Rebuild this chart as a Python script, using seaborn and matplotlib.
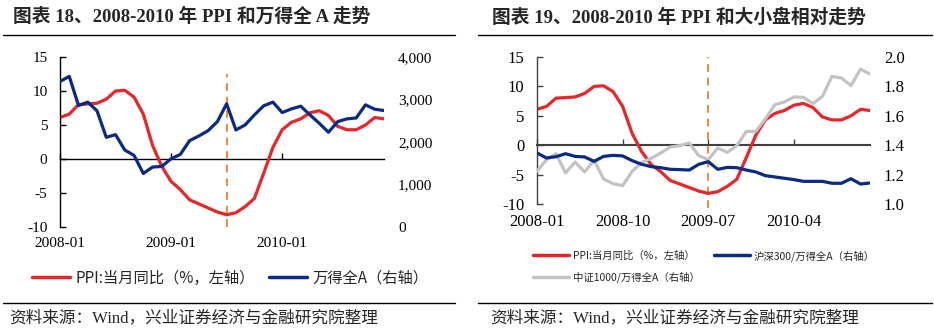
import matplotlib
matplotlib.use("Agg")
import matplotlib.pyplot as plt
from matplotlib.lines import Line2D
import numpy as np
import pandas as pd
import seaborn as sns

# ---- data: monthly, 2008-01 .. 2010-12 ----
months = [p.strftime("%Y-%m") for p in pd.period_range("2008-01", "2010-12", freq="M")]

ppi_yoy = [6.1, 6.6, 8.0, 8.1, 8.2, 8.8, 10.0, 10.1, 9.1, 6.6, 2.0, -1.1,
           -3.3, -4.5, -6.0, -6.6, -7.2, -7.8, -8.2, -7.9, -7.0, -5.8, -2.1, 1.7,
           4.3, 5.4, 5.9, 6.8, 7.1, 6.4, 4.8, 4.3, 4.3, 5.0, 6.1, 5.9]

wind_all_a = [3424, 3544, 2858, 2938, 2733, 2110, 2173, 1811, 1685, 1259, 1410, 1426,
              1606, 1709, 2032, 2142, 2267, 2480, 2898, 2283, 2402, 2638, 2851, 2938,
              2693, 2779, 2843, 2638, 2442, 2229, 2480, 2544, 2566, 2874, 2771, 2741]

hs300_ratio = [1.347, 1.313, 1.322, 1.342, 1.324, 1.320, 1.290, 1.324, 1.331, 1.327, 1.295, 1.270,
               1.254, 1.247, 1.236, 1.234, 1.231, 1.270, 1.288, 1.236, 1.249, 1.247, 1.231, 1.218,
               1.193, 1.184, 1.175, 1.166, 1.154, 1.154, 1.154, 1.141, 1.141, 1.172, 1.136, 1.143]

csi1000_ratio = [1.222, 1.302, 1.342, 1.211, 1.286, 1.218, 1.297, 1.170, 1.138, 1.125, 1.222, 1.283,
                 1.311, 1.347, 1.388, 1.397, 1.415, 1.329, 1.302, 1.381, 1.351, 1.397, 1.494, 1.494,
                 1.578, 1.676, 1.694, 1.728, 1.726, 1.683, 1.732, 1.868, 1.857, 1.805, 1.918, 1.884]

marker_month = "2009-07"
left_xticks = ["2008-01", "2009-01", "2010-01"]
right_xticks = ["2008-01", "2008-10", "2009-07", "2010-04"]

df = pd.DataFrame({"idx": np.arange(len(months)), "ppi": ppi_yoy, "wind": wind_all_a,
                   "hs300": hs300_ratio, "csi1000": csi1000_ratio})

RED = "#E8262A"
NAVY = "#0B2A84"
GRAY = "#C3C3C3"
ORANGE = "#F0883A"

sns.set_theme(style="white")
plt.rcParams["font.family"] = ["Liberation Serif", "Noto Sans CJK SC"]
plt.rcParams["axes.unicode_minus"] = False

fig = plt.figure(figsize=(9.34, 3.31), dpi=100)
W, H = 934, 331


def fx(px):
    return px / W


def fy(py):
    return 1 - py / H


def panel(rect, right_lim, right_ticks, right_fmt, xtick_names, tick_fs, axis_color, zero_lw):
    ax = fig.add_axes(rect)
    ax.set_facecolor("none")
    ax.set_xlim(0, len(months) - 1)
    ax.set_ylim(-10, 15)
    ax.set_yticks([-10, -5, 0, 5, 10, 15])
    ax.set_yticklabels([str(v) for v in [-10, -5, 0, 5, 10, 15]])
    for s in ["top", "right", "bottom"]:
        ax.spines[s].set_visible(False)
    ax.spines["left"].set_color(axis_color)
    ax.spines["left"].set_linewidth(1.0)
    ax.tick_params(axis="y", direction="in", length=4, width=1.0, color=axis_color,
                   pad=9, labelsize=tick_fs, labelcolor="black", left=True)
    pos = [months.index(m) for m in xtick_names]
    ax.set_xticks(pos)
    ax.set_xticklabels(xtick_names)
    ax.tick_params(axis="x", length=0, pad=7, labelsize=tick_fs, labelcolor="black")
    ax.set_xlabel("")
    ax.set_ylabel("")
    ax.grid(False)

    # zero line carrying the month tick marks
    zero_frac = (0 - (-10)) / 25
    sec = ax.secondary_xaxis(zero_frac)
    sec.set_xticks(pos)
    sec.set_xticklabels([])
    sec.tick_params(direction="in", length=4, width=1.0, color=axis_color)
    for s in sec.spines.values():
        s.set_color(axis_color)
        s.set_linewidth(zero_lw)

    ax2 = ax.twinx()
    ax2.set_ylim(*right_lim)
    ax2.set_yticks(right_ticks)
    ax2.set_yticklabels([right_fmt(v) for v in right_ticks])
    for s in ax2.spines.values():
        s.set_visible(False)
    ax2.tick_params(axis="y", length=0, pad=10, labelsize=tick_fs, labelcolor="black")
    ax2.grid(False)
    ax2.set_ylabel("")
    return ax, ax2


# ---------------- left panel ----------------
axL, axL2 = panel([fx(60), fy(227), fx(384 - 60), (227 - 57) / H],
                  (0, 4000), [0, 1000, 2000, 3000, 4000], lambda v: f"{v:,.0f}",
                  left_xticks, 11, "black", 1.0)
sns.lineplot(data=df, x="idx", y="ppi", ax=axL, color=RED, lw=2.3, legend=False)
sns.lineplot(data=df, x="idx", y="wind", ax=axL2, color=NAVY, lw=2.3, legend=False)
axL.set_xlabel(""); axL.set_ylabel(""); axL2.set_xlabel(""); axL2.set_ylabel("")
axL.axvline(months.index(marker_month), ymin=0, ymax=0.9, color=ORANGE, lw=1.4,
            linestyle=(0, (4, 3)), zorder=1)

# ---------------- right panel ----------------
axR, axR2 = panel([fx(537), fy(204), fx(870 - 537), (204 - 57) / H],
                  (1.0, 2.0), [1.0, 1.2, 1.4, 1.6, 1.8, 2.0], lambda v: f"{v:.1f}",
                  right_xticks, 12, "#404040", 1.5)
sns.lineplot(data=df, x="idx", y="ppi", ax=axR, color=RED, lw=2.3, legend=False)
sns.lineplot(data=df, x="idx", y="csi1000", ax=axR2, color=GRAY, lw=2.3, legend=False)
sns.lineplot(data=df, x="idx", y="hs300", ax=axR2, color=NAVY, lw=2.3, legend=False)
axR.set_xlabel(""); axR.set_ylabel(""); axR2.set_xlabel(""); axR2.set_ylabel("")
axR.axvline(months.index(marker_month), ymin=-0.03, ymax=1.0, color=ORANGE, lw=1.4,
            linestyle=(0, (4, 3)), zorder=1, clip_on=False)

# ---------------- legends ----------------
cjk = ["Noto Sans CJK SC", "DejaVu Sans"]
lbl_ppi = "PPI:当月同比（%，左轴）"
lbl_wind = "万得全A（右轴）"
lbl_hs = "沪深300/万得全A（右轴）"
lbl_zz = "中证1000/万得全A（右轴）"

legL = fig.legend(handles=[Line2D([], [], color=RED, lw=2.5), Line2D([], [], color=NAVY, lw=2.5)],
                  labels=[lbl_ppi, lbl_wind], loc="center left",
                  bbox_to_anchor=(fx(32), fy(278)), ncol=2, frameon=False,
                  handlelength=2.5, handletextpad=0.35, columnspacing=0.9,
                  borderpad=0, borderaxespad=0, prop={"family": cjk, "size": 11})

legR = fig.legend(handles=[Line2D([], [], color=RED, lw=2.5), Line2D([], [], color=GRAY, lw=2.5),
                           Line2D([], [], color=NAVY, lw=2.5)],
                  labels=[lbl_ppi, lbl_zz, lbl_hs], loc="center left",
                  bbox_to_anchor=(fx(533), fy(266.5)), ncol=2, frameon=False,
                  handlelength=3.5, handletextpad=0.35, columnspacing=1.3, labelspacing=1.0,
                  borderpad=0, borderaxespad=0, prop={"family": cjk, "size": 7.5})

# ---------------- titles, rules, source ----------------
title_font = ["Liberation Serif", "Noto Sans CJK SC"]
fig.text(fx(13), fy(17), "图表 18、2008-2010 年 PPI 和万得全 A 走势", family=title_font,
         weight="bold", fontsize=13.5, va="center", ha="left")
fig.text(fx(492), fy(17), "图表 19、2008-2010 年 PPI 和大小盘相对走势", family=title_font,
         weight="bold", fontsize=13.5, va="center", ha="left")

for x0, x1 in [(3, 455), (478, 932)]:
    fig.add_artist(Line2D([fx(x0), fx(x1)], [fy(35), fy(35)], transform=fig.transFigure,
                          color="black", lw=1.0))
    fig.add_artist(Line2D([fx(x0), fx(x1)], [fy(303), fy(303)], transform=fig.transFigure,
                          color="black", lw=1.0))

src = "资料来源：Wind，兴业证券经济与金融研究院整理"
fig.text(fx(9), fy(318), src, family=title_font, fontsize=12, va="center", ha="left")
fig.text(fx(490), fy(318), src, family=title_font, fontsize=12, va="center", ha="left")

fig.savefig("out.png", dpi=100)
